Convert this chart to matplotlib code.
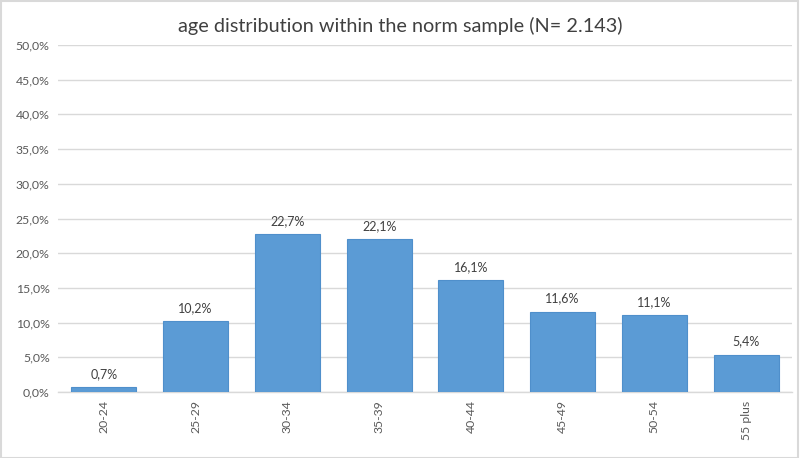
import matplotlib
matplotlib.use("Agg")
import matplotlib.pyplot as plt
from matplotlib.patches import Rectangle

categories = ["20-24", "25-29", "30-34", "35-39", "40-44", "45-49", "50-54", "55 plus"]
values = [0.7, 10.2, 22.7, 22.1, 16.1, 11.6, 11.1, 5.4]
yticks = [0, 5, 10, 15, 20, 25, 30, 35, 40, 45, 50]
title = "age distribution within the norm sample (N= 2.143)"

plt.rcParams['font.family'] = ['Lato', 'DejaVu Sans']
fig = plt.figure(figsize=(8, 4.58), dpi=100)
ax = fig.add_axes([0.0725, 0.1441, 0.9175, 0.7576])

x = list(range(len(categories)))
ax.bar(x, values, width=0.71, color="#5B9BD5", edgecolor="#4F8FCB", linewidth=0.8, zorder=3)
for xi, v in zip(x, values):
    ax.text(xi, v + 1.0, f"{v:.1f}%".replace(".", ","), ha="center", va="bottom",
            fontsize=9, color="#404040")

ax.set_xlim(-0.5, len(categories) - 0.5)
ax.set_ylim(0, 50)
ax.set_yticks(yticks)
ax.set_yticklabels([f"{t:.1f}%".replace(".", ",") for t in yticks], fontsize=8.8, color="#595959")
ax.set_xticks(x)
ax.set_xticklabels(categories, rotation=90, fontsize=8.8, color="#595959")
ax.tick_params(axis="both", length=0, pad=6)
ax.grid(axis="y", color="#D9D9D9", linewidth=1, zorder=0)
for s in ["top", "right", "left"]:
    ax.spines[s].set_visible(False)
ax.spines["bottom"].set_color("#D9D9D9")
ax.spines["bottom"].set_linewidth(1)

fig.text(0.5, 0.943, title, ha="center", va="center", fontsize=14.3, color="#404040")
fig.patches.append(Rectangle((0.001, 0.001), 0.997, 0.997, transform=fig.transFigure,
                             fill=False, edgecolor="#D9D9D9", linewidth=1.5))
fig.savefig("out.png", dpi=100, facecolor="white")
